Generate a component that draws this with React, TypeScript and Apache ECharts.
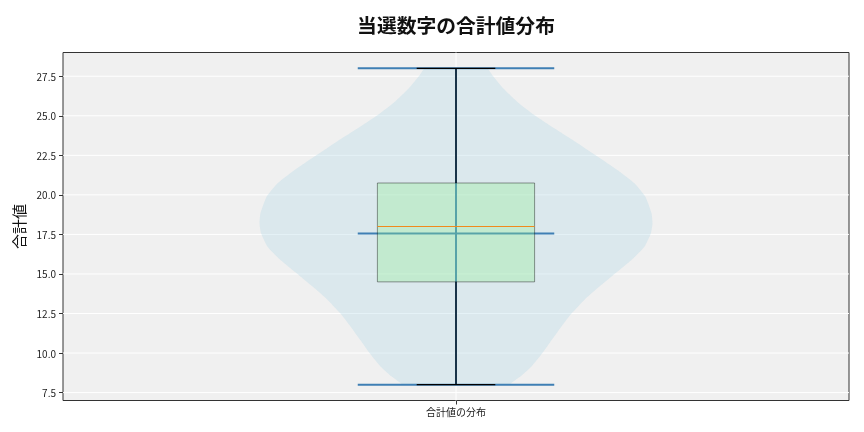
import React, { useEffect, useRef } from "react";
import * as echarts from "echarts";

const titleText = "当選数字の合計値分布";
const categoryLabel = "合計値の分布";
const yAxisName = "合計値";
const yTicks = [7.5, 10, 12.5, 15, 17.5, 20, 22.5, 25, 27.5];
const yRange = [7, 29];
const xRange = [0.5, 1.5];
const position = 1;

// violin outline: value and relative density (1 = widest)
const violinValues = [8.0, 8.09, 8.51, 9.14, 9.99, 10.83, 11.67, 12.51, 13.36, 14.2, 15.04, 15.88, 16.72, 17.57, 18.2, 18.84, 19.88, 20.73, 21.57, 22.52, 23.36, 24.21, 25.05, 25.89, 26.74, 27.58, 28.0];
const violinDensity = [0.27, 0.281, 0.327, 0.383, 0.439, 0.487, 0.536, 0.589, 0.653, 0.73, 0.811, 0.893, 0.959, 0.992, 1.0, 0.995, 0.964, 0.908, 0.821, 0.709, 0.607, 0.5, 0.398, 0.311, 0.24, 0.184, 0.158];

// box stats: min, q1, median, q3, max
const boxStats = [8, 14.5, 18, 20.75, 28];
const meanValue = 17.55;

const violinWidth = 0.5;
const boxWidth = 0.2;

const FONT = "'Noto Sans CJK JP', 'Noto Sans', sans-serif";

export default function App() {
  const ref = useRef<HTMLDivElement>(null);
  useEffect(() => {
    if (!ref.current) return;
    const chart = echarts.init(ref.current, undefined, { renderer: "svg" });
    const line = (a: number[], b: number[], stroke: string, lineWidth: number) => ({
      type: "line",
      shape: { x1: a[0], y1: a[1], x2: b[0], y2: b[1] },
      style: { stroke, lineWidth },
    });

    chart.setOption({
      animation: false,
      textStyle: { fontFamily: FONT },
      title: {
        text: titleText,
        left: 451,
        top: 10,
        textAlign: "center",
        textStyle: { fontSize: 19.8, fontWeight: "bold", color: "#111", fontFamily: FONT },
      },
      grid: {
        left: 63,
        right: 15,
        top: 52.5,
        bottom: 31.5,
        show: true,
        backgroundColor: "#f0f0f0",
        borderColor: "#333",
        borderWidth: 1,
      },
      xAxis: {
        type: "value",
        min: xRange[0],
        max: xRange[1],
        interval: 0.5,
        axisLine: { show: false },
        splitLine: { show: false },
        axisTick: { show: true, length: 4, customValues: [position], lineStyle: { color: "#333" } },
        axisLabel: {
          customValues: [position],
          formatter: (v: number) => (Math.abs(v - position) < 1e-6 ? categoryLabel : ""),
          fontSize: 10,
          color: "#222",
          margin: 6,
          fontFamily: FONT,
        },
      },
      yAxis: {
        type: "value",
        min: yRange[0],
        max: yRange[1],
        name: yAxisName,
        nameLocation: "middle",
        nameGap: 34,
        nameTextStyle: { fontSize: 15, color: "#111", fontFamily: FONT },
        axisLine: { show: false },
        splitLine: { show: false },
        axisTick: { show: true, length: 4, customValues: yTicks, lineStyle: { color: "#333" } },
        axisLabel: {
          customValues: yTicks,
          formatter: (v: number) => v.toFixed(1),
          fontSize: 10,
          color: "#222",
          margin: 7,
          fontFamily: FONT,
        },
      },
      series: [
        {
          type: "custom",
          z: 1,
          silent: true,
          data: [[position, yRange[0]]],
          renderItem: (_p: any, api: any) => {
            const children: any[] = yTicks.map((v) =>
              line(api.coord([xRange[0], v]), api.coord([xRange[1], v]), "#ffffff", 1)
            );
            children.push(line(api.coord([position, yRange[0]]), api.coord([position, yRange[1]]), "#ffffff", 1));
            return { type: "group", children };
          },
        },
        {
          type: "custom",
          z: 2,
          silent: true,
          data: [[position, boxStats[2]]],
          renderItem: (_p: any, api: any) => {
            const half = violinWidth / 2;
            const left = violinValues.map((v, i) => api.coord([position - half * violinDensity[i], v]));
            const right = violinValues
              .map((v, i) => api.coord([position + half * violinDensity[i], v]))
              .reverse();
            const cw = violinWidth / 4;
            return {
              type: "group",
              children: [
                {
                  type: "polygon",
                  shape: { points: [...left, ...right], smooth: 0.15 },
                  style: { fill: "rgba(173,216,230,0.32)" },
                },
                line(api.coord([position, boxStats[0]]), api.coord([position, boxStats[4]]), "#3f7fb4", 2),
                line(api.coord([position - cw, boxStats[0]]), api.coord([position + cw, boxStats[0]]), "#3f7fb4", 2),
                line(api.coord([position - cw, boxStats[4]]), api.coord([position + cw, boxStats[4]]), "#3f7fb4", 2),
                line(api.coord([position - cw, meanValue]), api.coord([position + cw, meanValue]), "#3f7fb4", 2),
              ],
            };
          },
        },
        {
          type: "custom",
          z: 3,
          silent: true,
          data: [[position, ...boxStats]],
          renderItem: (_p: any, api: any) => {
            const bh = boxWidth / 2;
            const ch = boxWidth / 4;
            const tl = api.coord([position - bh, boxStats[3]]);
            const br = api.coord([position + bh, boxStats[1]]);
            return {
              type: "group",
              children: [
                line(api.coord([position, boxStats[0]]), api.coord([position, boxStats[1]]), "#000", 1.2),
                line(api.coord([position, boxStats[3]]), api.coord([position, boxStats[4]]), "#000", 1.2),
                line(api.coord([position - ch, boxStats[0]]), api.coord([position + ch, boxStats[0]]), "#000", 1.2),
                line(api.coord([position - ch, boxStats[4]]), api.coord([position + ch, boxStats[4]]), "#000", 1.2),
                {
                  type: "rect",
                  shape: { x: tl[0], y: tl[1], width: br[0] - tl[0], height: br[1] - tl[1] },
                  style: { fill: "rgba(144,238,144,0.32)", stroke: "rgba(0,0,0,0.4)", lineWidth: 1 },
                },
                line(api.coord([position - bh, boxStats[2]]), api.coord([position + bh, boxStats[2]]), "#f08a1c", 1.2),
              ],
            };
          },
        },
      ],
    });
    return () => chart.dispose();
  }, []);
  return <div ref={ref} style={{ position: "fixed", left: 0, top: 0, width: 864, height: 432 }} />;
}
